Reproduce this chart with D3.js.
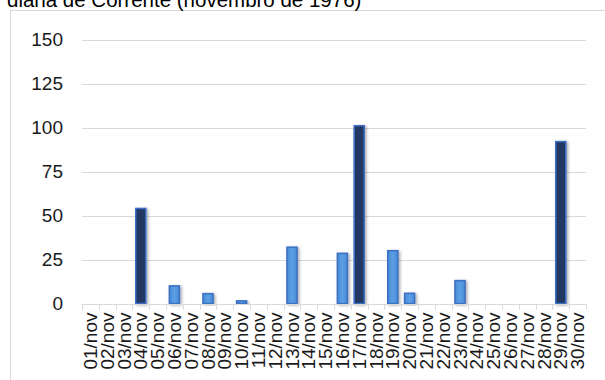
<!DOCTYPE html>
<html>
<head>
<meta charset="utf-8">
<script src="https://cdn.jsdelivr.net/npm/d3@7"></script>
<style>
  html, body { margin: 0; padding: 0; background: #fff; }
  svg { display: block; font-family: "Liberation Sans", Arial, sans-serif; }
</style>
</head>
<body>
<svg id="chart" width="605" height="380"></svg>
<script>
// Daily rainfall, Corrente, November 1976 (mm)
const days = ["01/nov","02/nov","03/nov","04/nov","05/nov","06/nov","07/nov","08/nov","09/nov","10/nov",
              "11/nov","12/nov","13/nov","14/nov","15/nov","16/nov","17/nov","18/nov","19/nov","20/nov",
              "21/nov","22/nov","23/nov","24/nov","25/nov","26/nov","27/nov","28/nov","29/nov","30/nov"];
const rainfall = [0, 0, 0, 54, 0, 10, 0, 5.6, 0, 1.5,
                  0, 0, 32, 0, 0, 28.5, 101, 0, 30, 5.8,
                  0, 0, 13, 0, 0, 0, 0, 0, 92, 0];
const yTicks = [0, 25, 50, 75, 100, 125, 150];
const titleText = "diária de Corrente (novembro de 1976)";
const heavyThreshold = 50;

const svg = d3.select("#chart");
const margin = { left: 82, right: 19, top: 39.5, bottom: 76.5 };
const W = 605, H = 380;

const x = d3.scaleBand().domain(days).range([margin.left, W - margin.right]).paddingInner(0).paddingOuter(0);
const y = d3.scaleLinear().domain([0, 150]).range([H - margin.bottom, margin.top]);

const defs = svg.append("defs");
const shadow = defs.append("filter").attr("id", "shadow")
  .attr("x", "-50%").attr("y", "-20%").attr("width", "200%").attr("height", "140%");
shadow.append("feDropShadow").attr("dx", 1.5).attr("dy", 1).attr("stdDeviation", 1.6)
  .attr("flood-color", "#000").attr("flood-opacity", 0.35);

const lightGrad = defs.append("linearGradient").attr("id", "lightFill")
  .attr("x1", 0).attr("x2", 1).attr("y1", 0).attr("y2", 0);
lightGrad.append("stop").attr("offset", "0%").attr("stop-color", "#4a8ad6");
lightGrad.append("stop").attr("offset", "50%").attr("stop-color", "#5aa0e4");
lightGrad.append("stop").attr("offset", "100%").attr("stop-color", "#4a8ad6");

// Chart frame (extends past the right and bottom of the view)
svg.append("path")
  .attr("d", `M10.5,${H + 5} V10.5 H${W + 5}`)
  .attr("fill", "none").attr("stroke", "#d9d9d9").attr("stroke-width", 1);

// Title
svg.append("text")
  .attr("x", 7).attr("y", 6.5)
  .attr("font-size", 20.5).attr("fill", "#000")
  .text(titleText);

// Gridlines
svg.append("g").selectAll("line").data(yTicks.filter(d => d > 0)).join("line")
  .attr("x1", margin.left).attr("x2", W - margin.right)
  .attr("y1", d => Math.round(y(d)) + 0.5).attr("y2", d => Math.round(y(d)) + 0.5)
  .attr("stroke", "#d9d9d9").attr("stroke-width", 1);

// Y axis labels
const yAxis = d3.axisLeft(y).tickValues(yTicks).tickSize(0).tickPadding(19);
svg.append("g").attr("transform", `translate(${margin.left},0)`).call(yAxis)
  .call(g => g.select(".domain").remove())
  .call(g => g.selectAll("text").attr("font-size", 19).attr("fill", "#1a1a1a")
    .attr("font-family", "Liberation Sans, Arial, sans-serif"));

// Bars
svg.append("g").selectAll("rect").data(days.map((d, i) => ({ day: d, v: rainfall[i] })).filter(d => d.v > 0))
  .join("rect")
  .attr("x", d => x(d.day) + x.bandwidth() * 0.2)
  .attr("width", x.bandwidth() * 0.6)
  .attr("y", d => y(d.v))
  .attr("height", d => y(0) - y(d.v))
  .attr("fill", d => d.v >= heavyThreshold ? "#203864" : "url(#lightFill)")
  .attr("stroke", d => d.v >= heavyThreshold ? "#3e6ec6" : "#3a6fc4")
  .attr("stroke-width", 1.5)
  .attr("filter", "url(#shadow)");

// X axis with category boundary ticks
const xAxisG = svg.append("g").attr("transform", `translate(0,${Math.round(y(0)) + 0.5})`);
xAxisG.append("line").attr("x1", margin.left).attr("x2", W - margin.right)
  .attr("stroke", "#d9d9d9").attr("stroke-width", 1);
const boundaries = days.map(d => x(d)).concat([x(days[days.length - 1]) + x.bandwidth()]);
xAxisG.selectAll("line.tick").data(boundaries).join("line").attr("class", "tick")
  .attr("x1", d => Math.round(d) + 0.5).attr("x2", d => Math.round(d) + 0.5)
  .attr("y1", 0).attr("y2", 5)
  .attr("stroke", "#d9d9d9").attr("stroke-width", 1);
xAxisG.selectAll("text").data(days).join("text")
  .attr("transform", d => `translate(${x(d) + x.bandwidth() / 2 + 6.5},8) rotate(-90)`)
  .attr("text-anchor", "end")
  .attr("font-size", 19).attr("fill", "#1a1a1a")
  .text(d => d);
</script>
</body>
</html>
